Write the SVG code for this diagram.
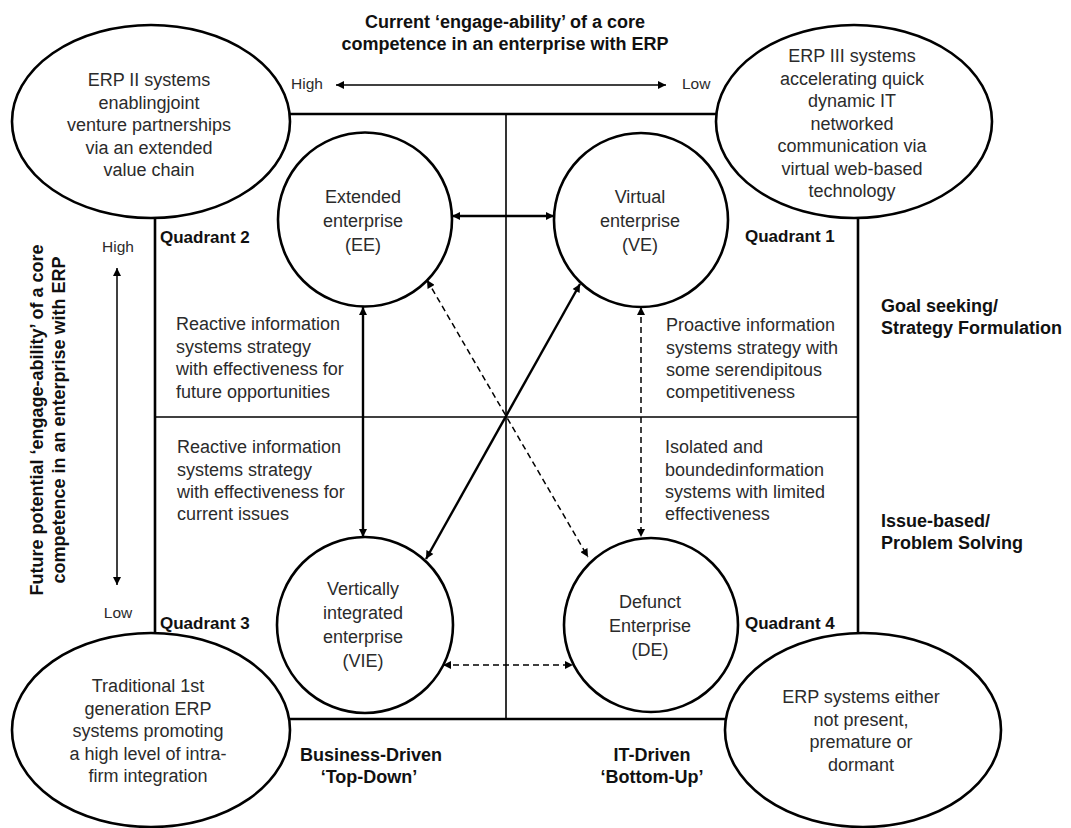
<svg xmlns="http://www.w3.org/2000/svg" width="1071" height="828" viewBox="0 0 1071 828">
  <style>
    .t { font-family: "Liberation Sans", Arial, sans-serif; font-size: 18px; fill: #2b2b2b; }
    .b { font-family: "Liberation Sans", Arial, sans-serif; font-size: 18px; font-weight: bold; fill: #111; }
    .q { font-family: "Liberation Sans", Arial, sans-serif; font-size: 17px; font-weight: bold; fill: #111; }
    .s { font-family: "Liberation Sans", Arial, sans-serif; font-size: 15.5px; fill: #2b2b2b; }
    .c { text-anchor: middle; }
    .node { fill: #fff; stroke: #000; stroke-width: 2.6; }
    .frame { fill: none; stroke: #000; stroke-width: 2.6; }
    .axis { fill: none; stroke: #000; stroke-width: 1.6; }
    .solid { fill: none; stroke: #000; stroke-width: 2.4; marker-start: url(#ah); marker-end: url(#ah); }
    .dash { fill: none; stroke: #000; stroke-width: 1.5; stroke-dasharray: 6 4; marker-start: url(#ah); marker-end: url(#ah); }
    .scale { fill: none; stroke: #000; stroke-width: 1.5; marker-start: url(#ah); marker-end: url(#ah); }
  </style>
  <defs>
    <marker id="ah" viewBox="0 0 10 10" refX="10" refY="5" markerWidth="9" markerHeight="8" markerUnits="userSpaceOnUse" orient="auto-start-reverse">
      <path d="M0,0 L10,5 L0,10 z" fill="#000"/>
    </marker>
  </defs>
  <rect width="1071" height="828" fill="#fff"/>

  <!-- matrix frame and quadrant dividers -->
  <g id="frame">
    <line class="frame" x1="290" y1="114" x2="716" y2="114"/>
    <line class="frame" x1="290" y1="719" x2="725" y2="719"/>
    <line class="frame" x1="155" y1="216" x2="155" y2="634"/>
    <line class="frame" x1="858" y1="216" x2="858" y2="634"/>
    <line class="axis" x1="506" y1="114" x2="506" y2="719"/>
    <line class="axis" x1="155" y1="417" x2="858" y2="417"/>
  </g>

  <!-- axis titles and scales -->
  <g id="axis-top">
    <text class="b c" x="505" y="28">Current ‘engage-ability’ of a core</text>
    <text class="b c" x="505" y="50">competence in an enterprise with ERP</text>
    <text class="s" x="291" y="89">High</text>
    <text class="s" x="682" y="89">Low</text>
    <line class="scale" x1="336" y1="85" x2="666" y2="85"/>
  </g>
  <g id="axis-left">
    <text class="b c" transform="translate(43,420) rotate(-90)">Future potential ‘engage-ability’ of a core</text>
    <text class="b c" transform="translate(65,420) rotate(-90)">competence in an enterprise with ERP</text>
    <text class="s c" x="118" y="252">High</text>
    <text class="s c" x="118" y="618">Low</text>
    <line class="scale" x1="117" y1="268" x2="117" y2="585"/>
  </g>

  <!-- corner ellipses -->
  <g id="erp2">
    <ellipse class="node" cx="151" cy="121.5" rx="139" ry="96.5"/>
    <text class="t c" x="149" y="86">ERP II systems</text>
    <text class="t c" x="149" y="108.5">enablingjoint</text>
    <text class="t c" x="149" y="131">venture partnerships</text>
    <text class="t c" x="149" y="153.5">via an extended</text>
    <text class="t c" x="149" y="176">value chain</text>
  </g>
  <g id="erp3">
    <ellipse class="node" cx="854" cy="121.5" rx="138" ry="96.5"/>
    <text class="t c" x="852" y="62">ERP III systems</text>
    <text class="t c" x="852" y="84.5">accelerating quick</text>
    <text class="t c" x="852" y="107">dynamic IT</text>
    <text class="t c" x="852" y="129.5">networked</text>
    <text class="t c" x="852" y="152">communication via</text>
    <text class="t c" x="852" y="174.5">virtual web-based</text>
    <text class="t c" x="852" y="197">technology</text>
  </g>
  <g id="erp1">
    <ellipse class="node" cx="151" cy="730" rx="139" ry="97"/>
    <text class="t c" x="148" y="692">Traditional 1st</text>
    <text class="t c" x="148" y="714.5">generation ERP</text>
    <text class="t c" x="148" y="737">systems promoting</text>
    <text class="t c" x="148" y="759.5">a high level of intra-</text>
    <text class="t c" x="148" y="782">firm integration</text>
  </g>
  <g id="erp0">
    <ellipse class="node" cx="863" cy="730" rx="138" ry="97"/>
    <text class="t c" x="861" y="703">ERP systems either</text>
    <text class="t c" x="861" y="725.5">not present,</text>
    <text class="t c" x="861" y="748">premature or</text>
    <text class="t c" x="861" y="770.5">dormant</text>
  </g>

  <!-- enterprise circles -->
  <g id="ee">
    <circle class="node" cx="365" cy="219.5" r="87"/>
    <text class="t c" x="363" y="203">Extended</text>
    <text class="t c" x="363" y="227">enterprise</text>
    <text class="t c" x="363" y="251">(EE)</text>
  </g>
  <g id="ve">
    <circle class="node" cx="641" cy="220" r="87"/>
    <text class="t c" x="640" y="203">Virtual</text>
    <text class="t c" x="640" y="227">enterprise</text>
    <text class="t c" x="640" y="251">(VE)</text>
  </g>
  <g id="vie">
    <circle class="node" cx="365" cy="625" r="88"/>
    <text class="t c" x="363" y="595">Vertically</text>
    <text class="t c" x="363" y="619">integrated</text>
    <text class="t c" x="363" y="643">enterprise</text>
    <text class="t c" x="363" y="667">(VIE)</text>
  </g>
  <g id="de">
    <circle class="node" cx="651" cy="625" r="87"/>
    <text class="t c" x="650" y="608">Defunct</text>
    <text class="t c" x="650" y="632">Enterprise</text>
    <text class="t c" x="650" y="656">(DE)</text>
  </g>

  <!-- connectors -->
  <g id="connectors">
    <line class="solid" x1="452" y1="216" x2="554" y2="216"/>
    <line class="solid" x1="363" y1="307" x2="363" y2="537"/>
    <line class="solid" x1="426" y1="559" x2="580" y2="284"/>
    <line class="dash" x1="641" y1="307" x2="641" y2="537"/>
    <line class="dash" x1="427" y1="280" x2="588" y2="557"/>
    <line class="dash" x1="443" y1="665" x2="573" y2="665"/>
  </g>

  <!-- quadrant labels and descriptions -->
  <g id="quadrant-labels">
    <text class="q" x="160" y="243">Quadrant 2</text>
    <text class="q" x="745" y="242">Quadrant 1</text>
    <text class="q" x="160" y="629">Quadrant 3</text>
    <text class="q" x="745" y="629">Quadrant 4</text>
  </g>
  <g id="q2-text">
    <text class="t" x="176" y="330">Reactive information</text>
    <text class="t" x="176" y="352.5">systems strategy</text>
    <text class="t" x="176" y="375">with effectiveness for</text>
    <text class="t" x="176" y="397.5">future opportunities</text>
  </g>
  <g id="q3-text">
    <text class="t" x="177" y="453">Reactive information</text>
    <text class="t" x="177" y="475.5">systems strategy</text>
    <text class="t" x="177" y="498">with effectiveness for</text>
    <text class="t" x="177" y="520">current issues</text>
  </g>
  <g id="q1-text">
    <text class="t" x="666" y="331">Proactive information</text>
    <text class="t" x="666" y="353.5">systems strategy with</text>
    <text class="t" x="666" y="376">some serendipitous</text>
    <text class="t" x="666" y="398">competitiveness</text>
  </g>
  <g id="q4-text">
    <text class="t" x="665" y="453">Isolated and</text>
    <text class="t" x="665" y="475.5">boundedinformation</text>
    <text class="t" x="665" y="498">systems with limited</text>
    <text class="t" x="665" y="520">effectiveness</text>
  </g>

  <!-- side and bottom orientation labels -->
  <g id="orientation">
    <text class="b" x="881" y="312">Goal seeking/</text>
    <text class="b" x="881" y="334">Strategy Formulation</text>
    <text class="b" x="881" y="527">Issue-based/</text>
    <text class="b" x="881" y="549">Problem Solving</text>
    <text class="b c" x="371" y="761">Business-Driven</text>
    <text class="b c" x="369" y="783">‘Top-Down’</text>
    <text class="b c" x="652" y="761">IT-Driven</text>
    <text class="b c" x="652" y="783">‘Bottom-Up’</text>
  </g>
</svg>
